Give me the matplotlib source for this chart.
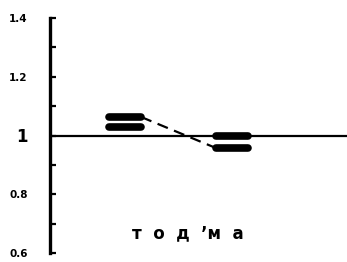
import matplotlib.pyplot as plt

# values
groups = [1, 2]
upper = [1.063, 0.997]
lower = [1.030, 0.957]
yticks = [0.6, 0.8, 1.0, 1.2, 1.4]
ytick_labels = ['0.6', '0.8', '1', '1.2', '1.4']
minor_ticks = [0.7, 0.9, 1.1, 1.3]
caption = 'т  о  д  \u2019м  а'

fig = plt.figure(figsize=(3.47, 2.62), dpi=100)
ax = fig.add_axes([50 / 347, 9 / 262, 297 / 347, 235 / 262])

half = 0.15
for g, u, l in zip(groups, upper, lower):
    ax.plot([g - half, g + half], [u, u], color='black', lw=5.5, solid_capstyle='round')
    ax.plot([g - half, g + half], [l, l], color='black', lw=5.5, solid_capstyle='round')

# dashed link between the two groups
ax.plot([groups[0] + half, groups[1] - half], [upper[0], lower[1]],
        color='black', lw=1.6, ls=(0, (5, 3)))

# reference line at 1
ax.axhline(1.0, color='black', lw=1.6)

ax.set_xlim(0.30, 3.07)
ax.set_ylim(0.6, 1.4)

for s in ['top', 'right', 'bottom']:
    ax.spines[s].set_visible(False)
ax.spines['left'].set_linewidth(2.4)
ax.set_xticks([])

ax.set_yticks(yticks)
ax.set_yticklabels(ytick_labels, fontweight='bold', fontsize=7.5)
ax.set_yticks(minor_ticks, minor=True)
ax.tick_params(axis='y', which='both', direction='in', length=4, width=1.6, pad=16)
for lab in ax.get_yticklabels():
    if lab.get_text() == '1':
        lab.set_fontsize(12)

ax.text(0.465, 0.085, caption, transform=ax.transAxes, ha='center', va='center',
        fontsize=12, fontweight='bold')

fig.savefig('out.png', dpi=100)
